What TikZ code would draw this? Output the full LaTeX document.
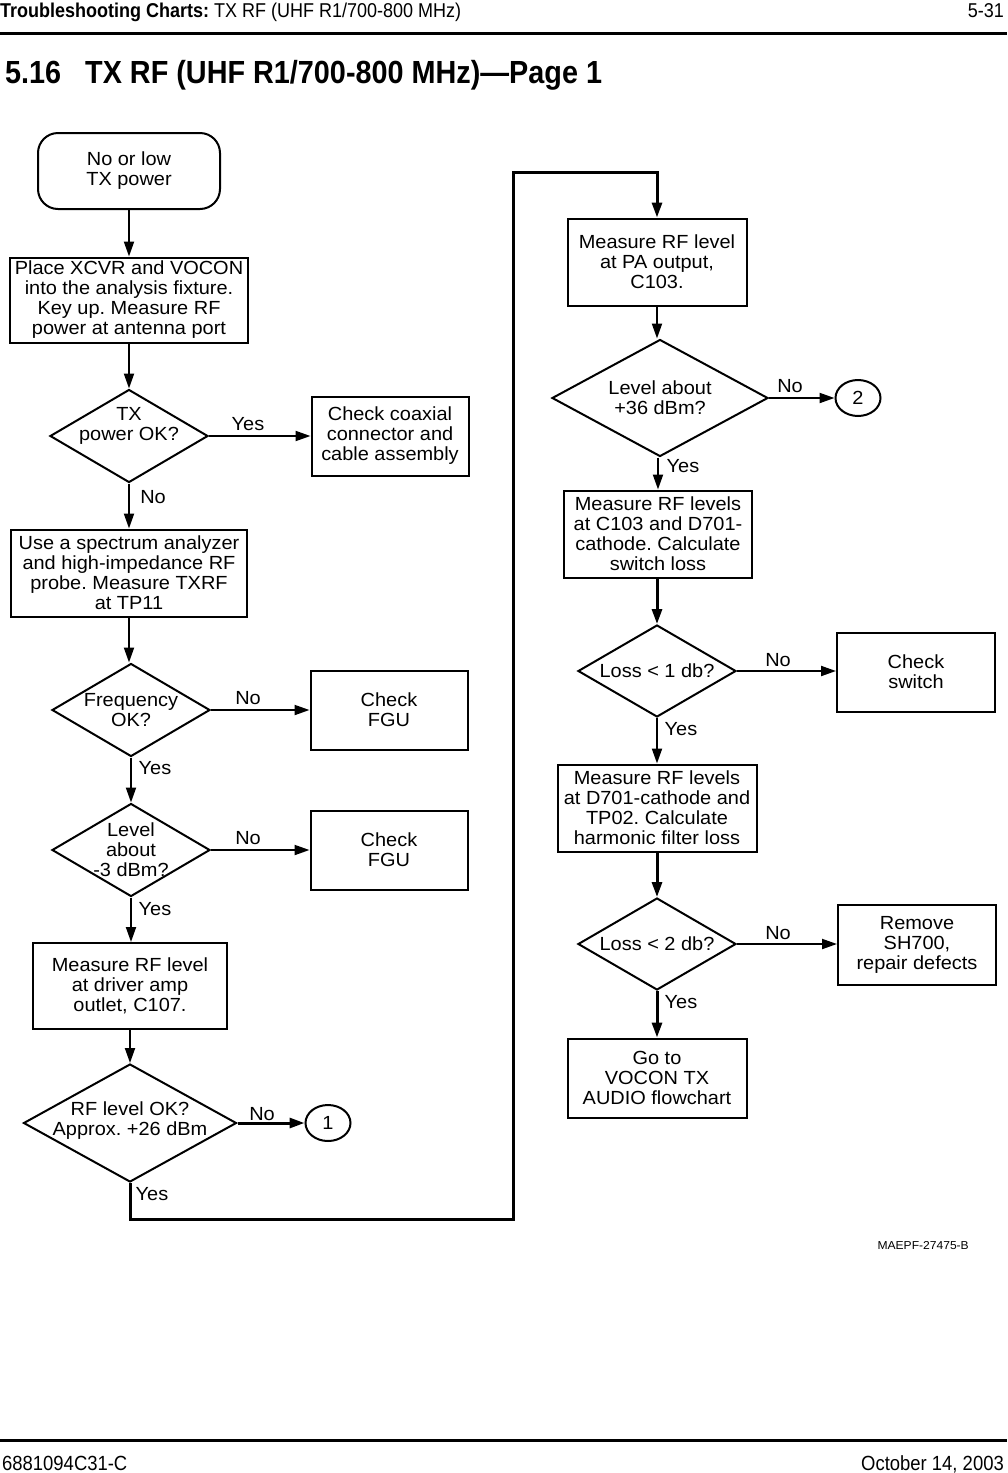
\documentclass[tikz,border=0pt]{standalone}
\usepackage{fontspec}
\setmainfont{Liberation Sans}[FakeStretch=1.05]
\newfontfamily\narrowfont{Liberation Sans}[FakeStretch=0.9]
\usetikzlibrary{shapes.geometric,arrows.meta}
\frenchspacing
\begin{document}
\begin{tikzpicture}[x=1pt,y=-1pt,
  font=\fontsize{19}{20}\selectfont,
  box/.style={draw,line width=2pt,align=center,inner sep=0pt},
  startbox/.style={box,rounded corners=20pt},
  dia/.style={draw,line width=2pt,diamond,inner sep=0pt},
  circ/.style={draw,line width=2pt,ellipse,inner sep=0pt,minimum width=45pt,minimum height=36pt},
  lab/.style={inner sep=0pt},
  arr/.style={line width=2pt,-{Triangle[length=15pt,width=10pt]}},
  arrt/.style={line width=3pt,-{Triangle[length=15pt,width=10pt]}},
  dtext/.style={align=center,inner sep=0pt}
]
\useasboundingbox (0,0) rectangle (1007,1473);
% header
\node[anchor=base west,inner sep=0pt] (hdr) at (0,17) {\narrowfont\fontsize{20}{22}\selectfont\textbf{Troubleshooting Charts:} TX RF (UHF R1/700-800 MHz)};
\node[anchor=base east,inner sep=0pt] (pg) at (1004,17) {\narrowfont\fontsize{20}{22}\selectfont 5-31};
\draw[line width=3pt] (0,33) -- (1007,33);
\node[anchor=base west,inner sep=0pt] (tnum) at (5,83) {\narrowfont\fontsize{32}{34}\selectfont\bfseries 5.16};
\node[anchor=base west,inner sep=0pt] (ttl) at (85,83) {\narrowfont\fontsize{32}{34}\selectfont\bfseries TX RF (UHF R1/700-800 MHz)\textemdash Page 1};
% footer
\draw[line width=3pt] (0,1440) -- (1007,1440);
\node[anchor=base west,inner sep=0pt] (fl) at (2,1470) {\narrowfont\fontsize{20.5}{22}\selectfont 6881094C31-C};
\node[anchor=base east,inner sep=0pt] (fr) at (1004,1470) {\narrowfont\fontsize{20.5}{22}\selectfont October 14, 2003};
\node[anchor=base east,inner sep=0pt] (code) at (969,1249) {\fontsize{11.5}{13}\selectfont MAEPF-27475-B};

% left column
\node[startbox,minimum width=182pt,minimum height=76pt] (start) at (129,171) {No or low\\TX power};
\node[box,minimum width=238pt,minimum height=85pt] (place) at (129,300) {Place XCVR and VOCON\\into the analysis fixture.\\Key up. Measure RF\\power at antenna port};
\node[dia,minimum width=158pt,minimum height=93pt,label={[dtext,yshift=10pt]center:TX\\power OK?}] (txok) at (129,436) {};
\node[box,minimum width=157pt,minimum height=79pt] (coax) at (390,436) {Check coaxial\\connector and\\cable assembly};
\node[box,minimum width=236pt,minimum height=87pt] (spec) at (129,573) {Use a spectrum analyzer\\and high-impedance RF\\probe. Measure TXRF\\at TP11};
\node[dia,minimum width=158pt,minimum height=93pt,label={[dtext]center:Frequency\\OK?}] (freq) at (131,710) {};
\node[box,minimum width=157pt,minimum height=79pt] (fgua) at (389,710) {Check\\FGU};
\node[dia,minimum width=158pt,minimum height=93pt,label={[dtext]center:Level\\about\\-3 dBm?}] (lvl) at (131,850) {};
\node[box,minimum width=157pt,minimum height=79pt] (fgub) at (389,850) {Check\\FGU};
\node[box,minimum width=194pt,minimum height=86pt] (drv) at (130,986) {Measure RF level\\at driver amp\\outlet, C107.};
\node[dia,minimum width=213pt,minimum height=118pt,label={[dtext,yshift=2pt]center:RF level OK?\\Approx. +26 dBm}] (rfok) at (130,1123) {};
\node[circ] (cone) at (328,1123) {1};

% right column
\node[box,minimum width=179pt,minimum height=87pt] (pa) at (657,262) {Measure RF level\\at PA output,\\C103.};
\node[dia,minimum width=216pt,minimum height=117pt,label={[dtext]center:Level about\\+36 dBm?}] (lthree) at (660,398) {};
\node[circ] (ctwo) at (858,398) {2};
\node[box,minimum width=188pt,minimum height=87pt] (sw) at (658,534) {Measure RF levels\\at C103 and D701-\\cathode. Calculate\\switch loss};
\node[dia,minimum width=158pt,minimum height=92pt,label={[dtext]center:Loss < 1 db?}] (lossa) at (657,671) {};
\node[box,minimum width=158pt,minimum height=79pt] (chsw) at (916,672) {Check\\switch};
\node[box,minimum width=199pt,minimum height=87pt] (hf) at (657,808) {Measure RF levels\\at D701-cathode and\\TP02. Calculate\\harmonic filter loss};
\node[dia,minimum width=158pt,minimum height=92pt,label={[dtext]center:Loss < 2 db?}] (lossb) at (657,944) {};
\node[box,minimum width=158pt,minimum height=80pt] (rem) at (917,945) {Remove\\SH700,\\repair defects};
\node[box,minimum width=179pt,minimum height=79pt] (goto) at (657,1078) {Go to\\VOCON TX\\AUDIO flowchart};

% connectors left
\draw[arr] (start) -- (place);
\draw[arr] (place) -- (txok);
\draw[arr] (txok.east) -- (coax.west);
\draw[arr] (txok.south) -- (spec.north);
\draw[arr] (spec.south) -- (freq.north -| spec.south);
\draw[arr] (freq.east) -- (fgua.west);
\draw[arr] (freq.south) -- (lvl.north);
\draw[arr] (lvl.east) -- (fgub.west);
\draw[arr] (lvl.south) -- (drv.north -| lvl.south);
\draw[arr] (drv.south) -- (rfok.north);
\draw[arrt] (rfok.east) -- (cone.west);
\coordinate (lpa) at (130,1219);
\coordinate (lpb) at (513,1219);
\coordinate (lpc) at (513,172);
\draw[arrt] (rfok.south) -- (lpa) -- (lpb) -- (lpc) -| (pa.north);

% connectors right
\draw[arr] (pa.south) -- (lthree.north -| pa.south);
\draw[arr] (lthree.east) -- (ctwo.west);
\draw[arr] (lthree.south -| sw.north) -- (sw.north);
\draw[arrt] (sw.south -| lossa.north) -- (lossa.north);
\draw[arr] (lossa.east) -- (lossa.east -| chsw.west);
\draw[arr] (lossa.south) -- (hf.north);
\draw[arrt] (hf.south) -- (lossb.north);
\draw[arr] (lossb.east) -- (lossb.east -| rem.west);
\draw[arrt] (lossb.south) -- (goto.north);

% branch labels
\node[lab] (ya) at (248,424) {Yes};
\node[lab] (na) at (153,497) {No};
\node[lab] (nb) at (248,698) {No};
\node[lab] (yb) at (155,768) {Yes};
\node[lab] (nc) at (248,838) {No};
\node[lab] (yc) at (155,909) {Yes};
\node[lab] (nd) at (262,1114) {No};
\node[lab] (yd) at (152,1194) {Yes};
\node[lab] (ne) at (790,386) {No};
\node[lab] (ye) at (683,466) {Yes};
\node[lab] (nf) at (778,660) {No};
\node[lab] (yf) at (681,729) {Yes};
\node[lab] (ng) at (778,933) {No};
\node[lab] (yg) at (681,1002) {Yes};
\end{tikzpicture}
\end{document}
